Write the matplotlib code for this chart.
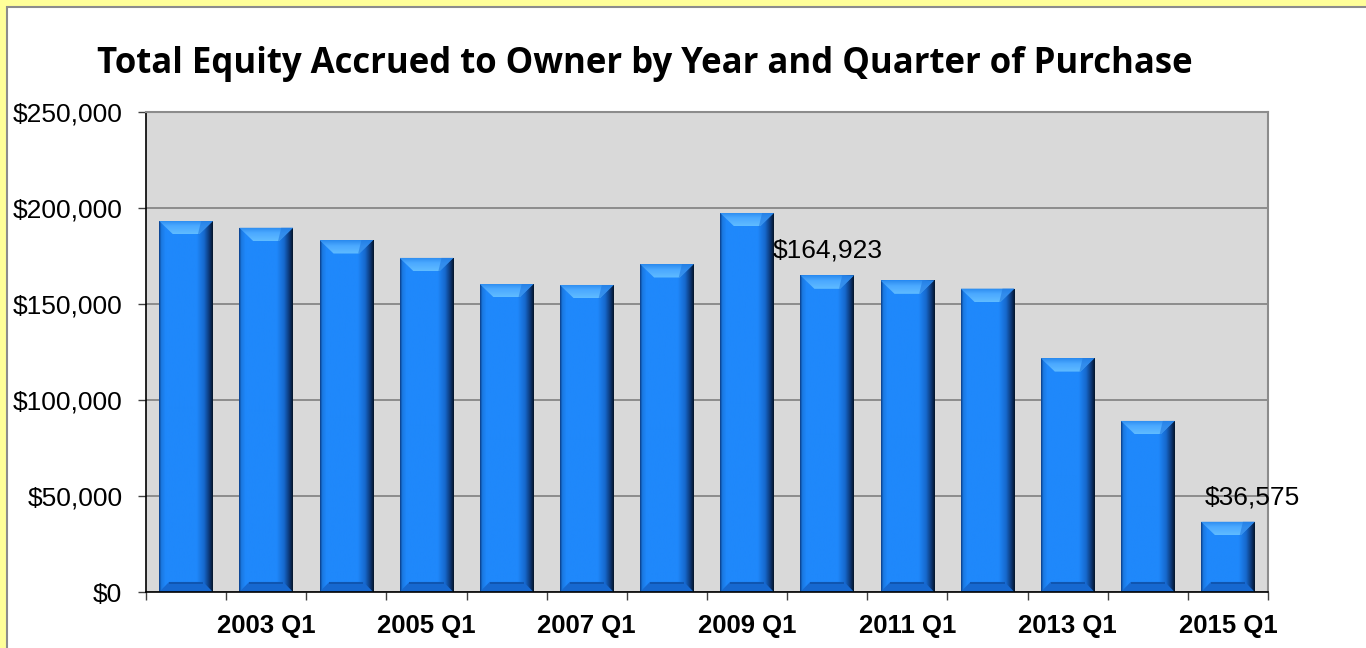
"""
plot.py — Total equity accrued to owner, Excel-style bevelled bars
"""
import numpy as np
import matplotlib
matplotlib.use("Agg")
import matplotlib.pyplot as plt
from matplotlib.colors import LinearSegmentedColormap
from matplotlib.patches import Polygon, Rectangle
from matplotlib.ticker import FuncFormatter, FixedLocator


# ── Data ──────────────────────────────────────────────────────────────
QUARTERS = [f"{y} Q1" for y in range(2002, 2016)]
EQUITY = [193200, 189700, 183300, 174000, 160400, 159900, 170800,
          197400, 164923, 162300, 158000, 121800, 89100, 36575]
LABELLED = {8: "$164,923", 13: "$36,575"}

TITLE = "Total Equity Accrued to Owner by Year and Quarter of Purchase"

# ── Colors ────────────────────────────────────────────────────────────
PAGE_YELLOW = "#FFFF99"
PLOT_GREY = "#D9D9D9"
BODY_CMAP = LinearSegmentedColormap.from_list(
    "body", [(0.00, "#0b3f8a"), (0.04, "#1a78e0"), (0.12, "#1f88fb"),
             (0.70, "#1f88fb"), (0.84, "#1668cc"), (0.94, "#0b3470"),
             (1.00, "#04152c")])
TOP_CMAP = LinearSegmentedColormap.from_list(
    "top", [(0.0, "#60bcff"), (0.6, "#4aa8ff"), (1.0, "#2a8aee")])

fig = plt.figure(figsize=(13.66, 6.48), dpi=100)
fig.patch.set_facecolor(PAGE_YELLOW)

# white chart area with grey frame, cut by the image edge
fig.patches.append(Rectangle((7 / 1366, -0.1), 1.1, 1 - 7 / 648 + 0.1,
                             transform=fig.transFigure, facecolor="white",
                             edgecolor="#8c8c8c", linewidth=1.5, zorder=-5))

ax = fig.add_axes([146 / 1366, 1 - 592 / 648, 1122 / 1366, 480 / 648])
ax.set_zorder(2)
ax.set_facecolor(PLOT_GREY)

x = np.arange(len(EQUITY))
bars = ax.bar(x, EQUITY, width=0.67, color="#1f88fb", linewidth=0, zorder=3)

# ── Bevel shading on each bar ────────────────────────────────────────
hgrad = np.linspace(0, 1, 200).reshape(1, -1)
vgrad = np.linspace(0, 1, 50).reshape(-1, 1)
bx, by = 0.175, 7000  # bevel size in data units
for b in bars:
    x0, w, h = b.get_x(), b.get_width(), b.get_height()
    im = ax.imshow(hgrad, cmap=BODY_CMAP, aspect="auto",
                   extent=(x0, x0 + w, 0, h), zorder=3.5)
    im.set_clip_path(b)

    top = Polygon([(x0, h), (x0 + w, h), (x0 + w - bx, h - by), (x0 + bx, h - by)],
                  closed=True, facecolor="none", edgecolor="none", zorder=4)
    ax.add_patch(top)
    tim = ax.imshow(vgrad, cmap=TOP_CMAP, aspect="auto", origin="lower",
                    extent=(x0, x0 + w, h - by, h), zorder=4)
    tim.set_clip_path(top)
    # shaded right corner of the top bevel
    ax.add_patch(Polygon([(x0 + w * 0.78, h), (x0 + w, h), (x0 + w - bx, h - by),
                          (x0 + w * 0.72, h - by)], closed=True,
                         facecolor="#1f78e0", edgecolor="none", alpha=0.6,
                         zorder=4.1))

    bot = Polygon([(x0, 0), (x0 + w, 0), (x0 + w - bx * 0.7, by * 0.75),
                   (x0 + bx * 0.7, by * 0.75)],
                  closed=True, facecolor="#1668d0", edgecolor="none", zorder=4)
    ax.add_patch(bot)
    ax.add_patch(Polygon([(x0 + bx * 0.7, by * 0.75), (x0 + w - bx * 0.7, by * 0.75),
                          (x0 + w - bx * 0.7, by * 0.6), (x0 + bx * 0.7, by * 0.6)],
                         closed=True, facecolor="#0f55b0", edgecolor="none",
                         zorder=4.1))

# ── Data labels ───────────────────────────────────────────────────────
for i, txt in LABELLED.items():
    dx = 0.3 if i == len(EQUITY) - 1 else 0.0
    ax.annotate(txt, (x[i] + dx, EQUITY[i]), xytext=(0, 9),
                textcoords="offset points", ha="center", va="bottom",
                fontsize=19, family="Liberation Sans", zorder=6)

# ── Axes ──────────────────────────────────────────────────────────────
ax.set_xlim(-0.5, len(EQUITY) - 0.5)
ax.set_ylim(0, 250000)
ax.set_yticks(np.arange(0, 250001, 50000))
ax.yaxis.set_major_formatter(FuncFormatter(lambda v, _: f"${v:,.0f}"))
ax.grid(axis="y", color="#808080", linewidth=1.2, zorder=1)
ax.set_axisbelow(True)

ax.set_xticks(x[1::2])
ax.set_xticklabels(QUARTERS[1::2], fontsize=18.5, fontweight="bold",
                   family="Liberation Sans")
ax.xaxis.set_minor_locator(FixedLocator(np.arange(-0.5, len(EQUITY), 1)))
ax.tick_params(axis="x", which="major", length=0, pad=16)
ax.tick_params(axis="x", which="minor", length=6, width=1, color="#404040")
ax.tick_params(axis="y", length=6, width=1, color="#404040", pad=11)
for lab in ax.get_yticklabels():
    lab.set_fontsize(19)
    lab.set_family("Liberation Sans")

for side in ("top", "right"):
    ax.spines[side].set_color("#8c8c8c")
    ax.spines[side].set_linewidth(1.5)
for side in ("left", "bottom"):
    ax.spines[side].set_color("black")
    ax.spines[side].set_linewidth(1.2)
ax.spines["bottom"].set_zorder(5)

fig.text(645 / 1366, 1 - 64 / 648, TITLE, ha="center", va="center", fontsize=25,
         fontweight="bold", family="Open Sans")

fig.savefig("out.png", dpi=100, facecolor=fig.get_facecolor())
